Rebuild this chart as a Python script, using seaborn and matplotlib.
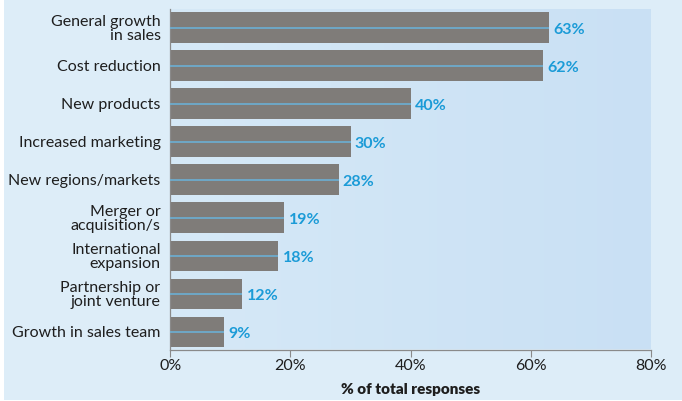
import numpy as np
import pandas as pd
import matplotlib
matplotlib.use("Agg")
import matplotlib.pyplot as plt
from matplotlib.patches import Rectangle
from matplotlib.colors import LinearSegmentedColormap
import seaborn as sns

categories = [
    "General growth\nin sales",
    "Cost reduction",
    "New products",
    "Increased marketing",
    "New regions/markets",
    "Merger or\nacquisition/s",
    "International\nexpansion",
    "Partnership or\njoint venture",
    "Growth in sales team",
]
values = [63, 62, 40, 30, 28, 19, 18, 12, 9]
x_ticks = [0, 20, 40, 60, 80]
x_tick_labels = ["0%", "20%", "40%", "60%", "80%"]
x_title = "% of total responses"

df = pd.DataFrame({"reason": categories, "pct": values})

sns.set_theme(style="white")
plt.rcParams["font.family"] = ["Lato", "DejaVu Sans"]

W, H = 682, 401
fig = plt.figure(figsize=(W / 100, H / 100), dpi=100, facecolor="white")

# Outer light-blue panel
fig.patches.append(Rectangle((4 / W, 1 / H), (W - 4) / W, (H - 1) / H,
                             transform=fig.transFigure, facecolor="#ddedf8",
                             edgecolor="none", zorder=-10))

ax_left, ax_right = 170.3, 651
ax_top, ax_bottom = 9, 349.5
ax = fig.add_axes([ax_left / W, 1 - ax_bottom / H,
                   (ax_right - ax_left) / W, (ax_bottom - ax_top) / H])
ax.set_facecolor("none")

# Soft horizontal gradient behind the bars
grad = LinearSegmentedColormap.from_list("panel", ["#d6e9f7", "#c9e0f4"])
ax.imshow(np.linspace(0, 1, 256).reshape(1, -1), cmap=grad, aspect="auto",
          extent=[0, 80, 8.46, -0.49], zorder=0)

sns.barplot(data=df, x="pct", y="reason", orient="h", color="#7f7c79",
            saturation=1, width=0.81, ax=ax, zorder=2, edgecolor="none")

# Thin blue line through the middle of each bar, value label at the end
for i, v in enumerate(values):
    ax.plot([0, v], [i, i], color="#6ab4dc", lw=1.1, zorder=3,
            solid_capstyle="butt")
    ax.text(v + 0.7, i + 0.05, f"{v}%", va="center", ha="left",
            color="#1b9bd7", fontsize=11.5, fontweight="bold", zorder=4)

ax.set_xlim(0, 80)
ax.set_ylim(8.46, -0.49)
ax.set_xticks(x_ticks)
ax.set_xticklabels(x_tick_labels, fontsize=11.5, color="#1e1e1e")
ax.set_yticks(range(len(categories)))
ax.set_yticklabels(categories, fontsize=11.5, color="#1e1e1e",
                   linespacing=0.95)
ax.tick_params(axis="x", direction="out", length=5, width=0.8,
               color="#8a8a8a", pad=2, bottom=True)
ax.tick_params(axis="y", length=0, pad=7)
ax.set_ylabel("")
ax.set_xlabel(x_title, fontsize=11, fontweight="heavy", color="#1e1e1e",
              labelpad=7)

for side in ["top", "right"]:
    ax.spines[side].set_visible(False)
for side in ["left", "bottom"]:
    ax.spines[side].set_visible(True)
    ax.spines[side].set_color("#8a8a8a")
    ax.spines[side].set_linewidth(0.9)

fig.savefig("out.png", dpi=100, facecolor=fig.get_facecolor())
